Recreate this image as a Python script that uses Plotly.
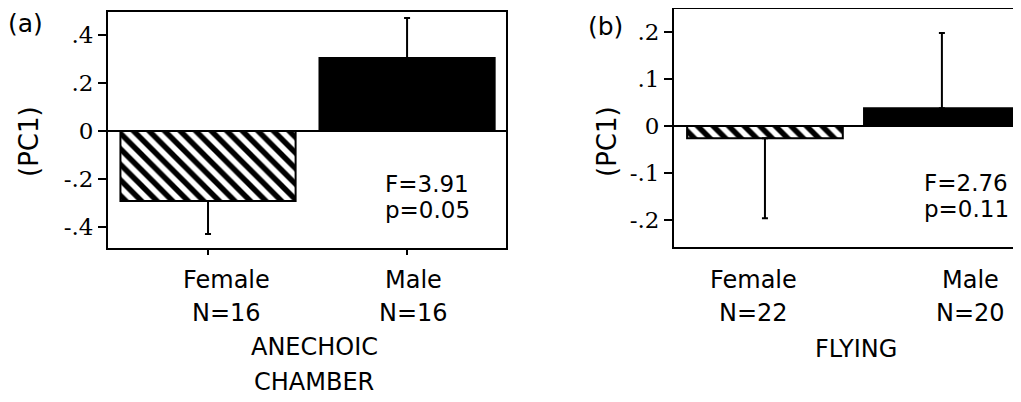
import plotly.graph_objects as go

# The page body has an 8px default margin, so the figure is sized to fit
OFF = 8
W, H = 1021 - OFF, 402 - OFF

# ---- data ----
groups = ["Female", "Male"]
n_anechoic = [16, 16]
n_flying = [22, 20]
pc1_anechoic = [-0.293, 0.305]
se_anechoic = [0.138, 0.168]
pc1_flying = [-0.026, 0.038]
se_flying = [0.170, 0.160]
tickvals_a = [0.4, 0.2, 0, -0.2, -0.4]
ticktext_a = [".4", ".2", "0", "-.2", "-.4"]
tickvals_b = [0.2, 0.1, 0, -0.1, -0.2]
ticktext_b = [".2", ".1", "0", "-.1", "-.2"]
stats_a = ["F=3.91", "p=0.05"]
stats_b = ["F=2.76", "p=0.11"]
cond_a = ["ANECHOIC", "CHAMBER"]
cond_b = ["FLYING"]

SANS = "DejaVu Sans"
SERIF = "DejaVu Serif"


def px(x):
    return min(1.0, max(0.0, (x - OFF) / W))


def py(y):
    return min(1.0, max(0.0, 1 - (y - OFF) / H))


fig = go.Figure()


def add_bars(vals, errs, xa, ya):
    for i, (v, e) in enumerate(zip(vals, errs)):
        female = i == 0
        up = [0] if v < 0 else [e]
        down = [e] if v < 0 else [0]
        marker = dict(color="black" if not female else "white",
                      line=dict(color="black", width=2))
        if female:
            marker["pattern"] = dict(shape="\\", fgcolor="black", bgcolor="white",
                                     fgopacity=1, fillmode="replace",
                                     size=11, solidity=0.5)
        fig.add_trace(go.Bar(
            x=[i], y=[v], width=0.88, marker=marker, xaxis=xa, yaxis=ya,
            showlegend=False, hoverinfo="skip",
            error_y=dict(type="data", symmetric=False, array=up, arrayminus=down,
                         color="black", thickness=2, width=3),
        ))


add_bars(pc1_anechoic, se_anechoic, "x", "y")
add_bars(pc1_flying, se_flying, "x2", "y2")

axis_common = dict(showgrid=False, linecolor="black", linewidth=2)

fig.update_layout(
    width=W, height=H,
    margin=dict(l=0, r=0, t=0, b=0),
    plot_bgcolor="white", paper_bgcolor="white",
    barmode="overlay",
    xaxis=dict(domain=[px(108), px(506)], range=[-0.5025, 1.497],
               showline=True, mirror=True, zeroline=False,
               tickvals=[0, 1], ticks="outside", ticklen=5, tickwidth=2,
               tickcolor="black", showticklabels=False, anchor="y", **axis_common),
    yaxis=dict(domain=[py(248), py(12)], range=[-0.49, 0.498],
               showline=True, mirror=True, zeroline=True, zerolinecolor="black",
               zerolinewidth=2, tickvals=tickvals_a, ticktext=ticktext_a,
               ticks="outside", ticklen=8, tickwidth=2, tickcolor="black",
               tickfont=dict(family=SERIF, size=23, color="black"),
               anchor="x", **axis_common),
    xaxis2=dict(domain=[px(674), 1.0], range=[-0.514, 1.447],
                showline=True, mirror=True, zeroline=False, ticks="",
                showticklabels=False, anchor="y2", **axis_common),
    yaxis2=dict(domain=[py(247), py(9)], range=[-0.257, 0.249],
                showline=True, mirror=False, zeroline=True, zerolinecolor="black",
                zerolinewidth=2, tickvals=tickvals_b, ticktext=ticktext_b,
                ticks="outside", ticklen=8, tickwidth=2, tickcolor="black",
                tickfont=dict(family=SERIF, size=23, color="black"),
                anchor="x2", **axis_common),
)


def text(x, y, s, size=24, anchor="center", angle=0, family=SANS):
    fig.add_annotation(x=px(x), y=py(y), xref="paper", yref="paper", text=s,
                       showarrow=False, xanchor=anchor, yanchor="middle",
                       textangle=angle, font=dict(family=family, size=size, color="black"))


# panel letters and y titles
text(25, 23, "(a)", size=25)
text(605, 27, "(b)", size=25)
text(29, 142, "(PC1)", size=26, angle=-90)
text(607, 142, "(PC1)", size=26, angle=-90)

# statistics
text(383, 184, stats_a[0], size=23, anchor="left")
text(383, 210, stats_a[1], size=23, anchor="left")
text(922, 183, stats_b[0], size=23, anchor="left")
text(922, 209, stats_b[1], size=23, anchor="left")

# category labels
lab_x_a = [226, 413]
lab_x_b = [753, 970]
for i, g in enumerate(groups):
    text(lab_x_a[i], 280, g)
    text(lab_x_a[i], 313, f"N={n_anechoic[i]}")
    text(lab_x_b[i], 280, g)
    text(lab_x_b[i], 313, f"N={n_flying[i]}")

text(314, 347, cond_a[0])
text(314, 382, cond_a[1])
text(856, 349, cond_b[0])

fig.write_html("out.html")
